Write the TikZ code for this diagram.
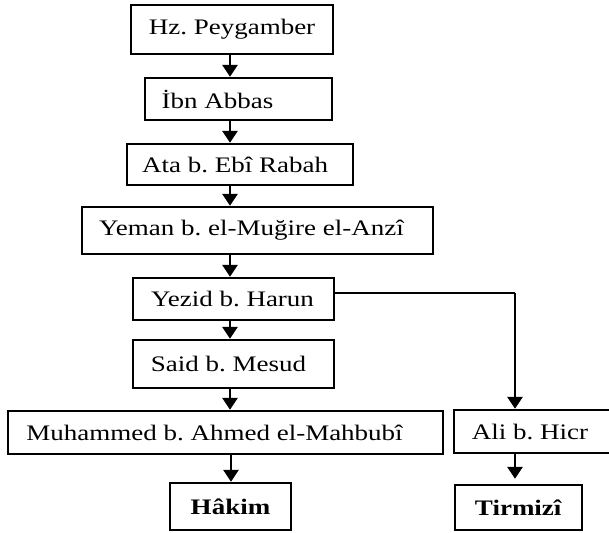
\documentclass[tikz,border=0pt]{standalone}
\usepackage{fontspec}
\setmainfont{Liberation Serif}
\usepackage{graphicx}
\usetikzlibrary{arrows.meta}
\newcommand\sq[1]{\scalebox{1}[0.82]{#1}}
\frenchspacing
\begin{document}
\begin{tikzpicture}[x=1pt,y=-1pt,
  box/.style={draw, line width=2.4pt, rectangle, inner sep=0pt, fill=white,
    font=\fontsize{27}{30}\selectfont},
  arr/.style={line width=2.8pt, -{Triangle[width=15pt,length=12pt]}},
  conn/.style={line width=2.2pt}]
\useasboundingbox (0,0) rectangle (609,532);
\fill[white] (0,0) rectangle (609,532);
\clip (0,0) rectangle (609,532);
\coordinate (axis) at (230,0);
\coordinate (axisb) at (231,0);
\coordinate (branch) at (515,0);

\node[box, minimum width=202pt, minimum height=49pt] (hz) at (232,29.5) {\sq{Hz. Peygamber}};
\node[box, minimum width=187pt, minimum height=42pt] (ibn) at (238.5,99) {\sq{İbn Abbas}\hspace*{42pt}};
\node[box, minimum width=226pt, minimum height=41pt] (ata) at (240,164.5) {\sq{Ata b. Ebî Rabah}\hspace*{10pt}};
\node[box, minimum width=351pt, minimum height=47pt] (yeman) at (257.5,230.5) {\sq{Yeman b. el-Muğire el-Anzî}\hspace*{12pt}};
\node[box, minimum width=201pt, minimum height=42pt] (yezid) at (233.5,299) {\sq{Yezid b. Harun}\hspace*{2pt}};
\node[box, minimum width=201pt, minimum height=48pt] (said) at (233.5,364) {\sq{Said b. Mesud}\hspace*{10pt}};
\node[box, minimum width=435pt, minimum height=43pt] (muh) at (225.5,432.5) {\sq{Muhammed b. Ahmed el-Mahbubî}\hspace*{22pt}};
\node[box, minimum width=121pt, minimum height=47pt] (hakim) at (230.5,506.5) {\sq{\textbf{Hâkim}}};
\node[box, minimum width=158pt, minimum height=43pt] (ali) at (533,431.5) {\sq{Ali b. Hicr}\hspace*{6pt}};
\node[box, minimum width=127pt, minimum height=45pt] (tirmizi) at (518.5,507.5) {\sq{\textbf{Tirmizî}}};

\draw[arr] (hz.south -| axis) -- (ibn.north -| axis);
\draw[arr] (ibn.south -| axis) -- (ata.north -| axis);
\draw[arr] (ata.south -| axis) -- (yeman.north -| axis);
\draw[arr] (yeman.south -| axis) -- (yezid.north -| axis);
\draw[arr] (yezid.south -| axis) -- (said.north -| axis);
\draw[arr] (said.south -| axis) -- (muh.north -| axis);
\draw[arr] (muh.south -| axisb) -- (hakim.north -| axisb);
\draw[conn] ([yshift=6pt]yezid.east) -- ([yshift=6pt]yezid.east -| branch);
\draw[arr] ([yshift=6pt]yezid.east -| branch) -- (ali.north -| branch);
\draw[arr, shorten >=5pt] (ali.south -| branch) -- (tirmizi.north -| branch);
\end{tikzpicture}
\end{document}
